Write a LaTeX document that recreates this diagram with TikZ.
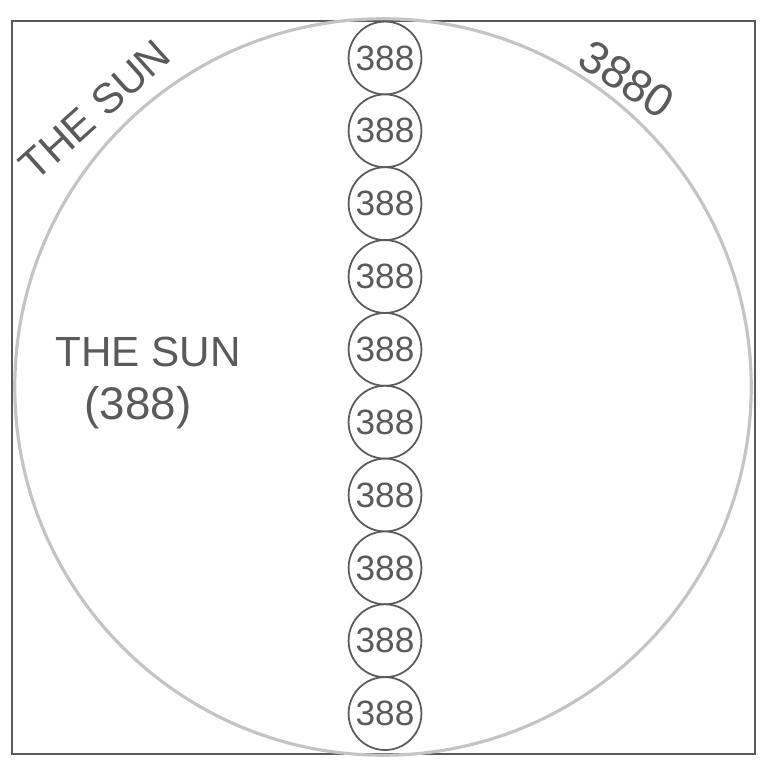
\documentclass[tikz,border=0pt]{standalone}
\usepackage{fontspec}
\setsansfont{Liberation Sans}
\usetikzlibrary{positioning}
\definecolor{pencil}{HTML}{5A5A5A}
\definecolor{faint}{HTML}{C4C4C4}
\tikzset{
  sundisc/.style={
    draw=faint, circle, line width=0.9pt,
    minimum size=7.36cm, inner sep=0pt
  },
  coin/.style={
    draw=pencil, fill=white, circle, line width=0.5pt,
    minimum size=0.728cm, inner sep=0pt, outer sep=0pt,
    text=pencil, font=\sffamily\fontsize{10}{12}\selectfont
  },
  scrawl/.style={
    text=pencil, align=center,
    font=\sffamily\fontsize{12}{14}\selectfont
  }
}
\begin{document}
\begin{tikzpicture}[x=0.01cm, y=-0.01cm]
\useasboundingbox (0,0) rectangle (764,768);
\draw[pencil, line width=0.4pt] (12,21) rectangle (755,754);
\node[sundisc] (sun) at (383,387) {};

\node[coin] (c1) at (385,58) {388};
\node[coin, below=0pt of c1] (c2)  {388};
\node[coin, below=0pt of c2] (c3)  {388};
\node[coin, below=0pt of c3] (c4)  {388};
\node[coin, below=0pt of c4] (c5)  {388};
\node[coin, below=0pt of c5] (c6)  {388};
\node[coin, below=0pt of c6] (c7)  {388};
\node[coin, below=0pt of c7] (c8)  {388};
\node[coin, below=0pt of c8] (c9)  {388};
\node[coin, below=0pt of c9] (c10) {388};

\node[scrawl, rotate=42]  (corner) at (95,110) {THE SUN};
\node[scrawl, rotate=-33, font=\sffamily\fontsize{13}{15}\selectfont] (count) at (627,79) {3880};
\node[scrawl] (name)  at (148,352) {THE SUN};
\node[scrawl, font=\sffamily\fontsize{13}{15}\selectfont] (value) at (138,408) {(388)};
\end{tikzpicture}
\end{document}
